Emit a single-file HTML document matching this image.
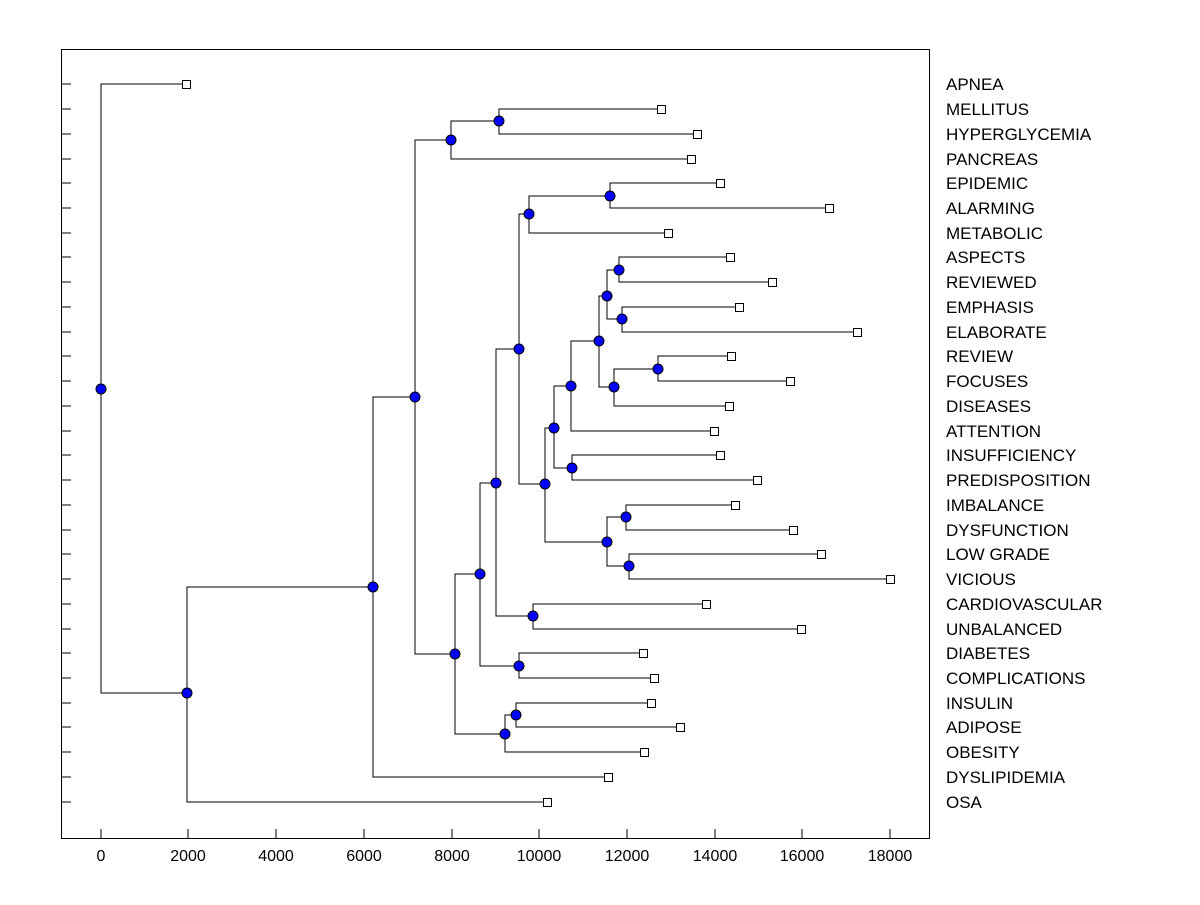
<!DOCTYPE html>
<html><head><meta charset="utf-8"><style>
html,body{margin:0;padding:0;background:#fff}
svg text{font-family:"Liberation Sans",Arial,sans-serif;font-size:16px;fill:#000}
svg .lab text{font-size:17px}
</style></head><body>
<svg width="1200" height="900" xmlns="http://www.w3.org/2000/svg">
<rect x="61.5" y="49.5" width="868" height="789" fill="none" stroke="#000"/>
<g stroke="#000" fill="none" shape-rendering="crispEdges">
<path d="M61 84H71M61 109H71M61 134H71M61 159H71M61 183H71M61 208H71M61 233H71M61 257H71M61 282H71M61 307H71M61 332H71M61 356H71M61 381H71M61 406H71M61 431H71M61 455H71M61 480H71M61 505H71M61 530H71M61 554H71M61 579H71M61 604H71M61 629H71M61 653H71M61 678H71M61 703H71M61 727H71M61 752H71M61 777H71M61 802H71"/>
<path d="M101 838V829M188 838V829M276 838V829M364 838V829M452 838V829M539 838V829M627 838V829M715 838V829M802 838V829M890 838V829"/>
<path d="M186 84H101V693H187M373 587H187V802H547M415 397H373V777H608M451 140H415V654H455M499 121H451V159H691M661 109H499V134H697M480 574H455V734H505M496 483H480V666H519M643 653H519V678H654M516 715H505V752H644M651 703H516V727H680M519 349H496V616H533M706 604H533V629H801M529 214H519V484H545M610 196H529V233H668M720 183H610V208H829M554 428H545V542H607M626 517H607V566H629M735 505H626V530H793M821 554H629V579H890M571 386H554V468H572M720 455H572V480H757M599 341H571V431H714M607 296H599V387H614M619 270H607V319H622M730 257H619V282H772M739 307H622V332H857M658 369H614V406H729M731 356H658V381H790"/>
</g>
<g fill="#fff" stroke="#000">
<rect x="182.5" y="80.5" width="8" height="8"/><rect x="657.5" y="105.5" width="8" height="8"/><rect x="693.5" y="130.5" width="8" height="8"/><rect x="687.5" y="155.5" width="8" height="8"/><rect x="716.5" y="179.5" width="8" height="8"/><rect x="825.5" y="204.5" width="8" height="8"/><rect x="664.5" y="229.5" width="8" height="8"/><rect x="726.5" y="253.5" width="8" height="8"/><rect x="768.5" y="278.5" width="8" height="8"/><rect x="735.5" y="303.5" width="8" height="8"/><rect x="853.5" y="328.5" width="8" height="8"/><rect x="727.5" y="352.5" width="8" height="8"/><rect x="786.5" y="377.5" width="8" height="8"/><rect x="725.5" y="402.5" width="8" height="8"/><rect x="710.5" y="427.5" width="8" height="8"/><rect x="716.5" y="451.5" width="8" height="8"/><rect x="753.5" y="476.5" width="8" height="8"/><rect x="731.5" y="501.5" width="8" height="8"/><rect x="789.5" y="526.5" width="8" height="8"/><rect x="817.5" y="550.5" width="8" height="8"/><rect x="886.5" y="575.5" width="8" height="8"/><rect x="702.5" y="600.5" width="8" height="8"/><rect x="797.5" y="625.5" width="8" height="8"/><rect x="639.5" y="649.5" width="8" height="8"/><rect x="650.5" y="674.5" width="8" height="8"/><rect x="647.5" y="699.5" width="8" height="8"/><rect x="676.5" y="723.5" width="8" height="8"/><rect x="640.5" y="748.5" width="8" height="8"/><rect x="604.5" y="773.5" width="8" height="8"/><rect x="543.5" y="798.5" width="8" height="8"/>
</g>
<g fill="#0000ff" stroke="#000">
<circle cx="101" cy="389" r="5"/><circle cx="187" cy="693" r="5"/><circle cx="373" cy="587" r="5"/><circle cx="415" cy="397" r="5"/><circle cx="451" cy="140" r="5"/><circle cx="499" cy="121" r="5"/><circle cx="455" cy="654" r="5"/><circle cx="480" cy="574" r="5"/><circle cx="519" cy="666" r="5"/><circle cx="505" cy="734" r="5"/><circle cx="516" cy="715" r="5"/><circle cx="496" cy="483" r="5"/><circle cx="533" cy="616" r="5"/><circle cx="519" cy="349" r="5"/><circle cx="529" cy="214" r="5"/><circle cx="610" cy="196" r="5"/><circle cx="545" cy="484" r="5"/><circle cx="607" cy="542" r="5"/><circle cx="626" cy="517" r="5"/><circle cx="629" cy="566" r="5"/><circle cx="554" cy="428" r="5"/><circle cx="572" cy="468" r="5"/><circle cx="571" cy="386" r="5"/><circle cx="599" cy="341" r="5"/><circle cx="607" cy="296" r="5"/><circle cx="619" cy="270" r="5"/><circle cx="622" cy="319" r="5"/><circle cx="614" cy="387" r="5"/><circle cx="658" cy="369" r="5"/>
</g>
<g class="lab">
<text x="946" y="90">APNEA</text><text x="946" y="115">MELLITUS</text><text x="946" y="140">HYPERGLYCEMIA</text><text x="946" y="165">PANCREAS</text><text x="946" y="189">EPIDEMIC</text><text x="946" y="214">ALARMING</text><text x="946" y="239">METABOLIC</text><text x="946" y="263">ASPECTS</text><text x="946" y="288">REVIEWED</text><text x="946" y="313">EMPHASIS</text><text x="946" y="338">ELABORATE</text><text x="946" y="362">REVIEW</text><text x="946" y="387">FOCUSES</text><text x="946" y="412">DISEASES</text><text x="946" y="437">ATTENTION</text><text x="946" y="461">INSUFFICIENCY</text><text x="946" y="486">PREDISPOSITION</text><text x="946" y="511">IMBALANCE</text><text x="946" y="536">DYSFUNCTION</text><text x="946" y="560">LOW GRADE</text><text x="946" y="585">VICIOUS</text><text x="946" y="610">CARDIOVASCULAR</text><text x="946" y="635">UNBALANCED</text><text x="946" y="659">DIABETES</text><text x="946" y="684">COMPLICATIONS</text><text x="946" y="709">INSULIN</text><text x="946" y="733">ADIPOSE</text><text x="946" y="758">OBESITY</text><text x="946" y="783">DYSLIPIDEMIA</text><text x="946" y="808">OSA</text>
</g>
<g text-anchor="middle">
<text x="101" y="861">0</text><text x="188" y="861">2000</text><text x="276" y="861">4000</text><text x="364" y="861">6000</text><text x="452" y="861">8000</text><text x="539" y="861">10000</text><text x="627" y="861">12000</text><text x="715" y="861">14000</text><text x="802" y="861">16000</text><text x="890" y="861">18000</text>
</g>
</svg>
</body></html>
